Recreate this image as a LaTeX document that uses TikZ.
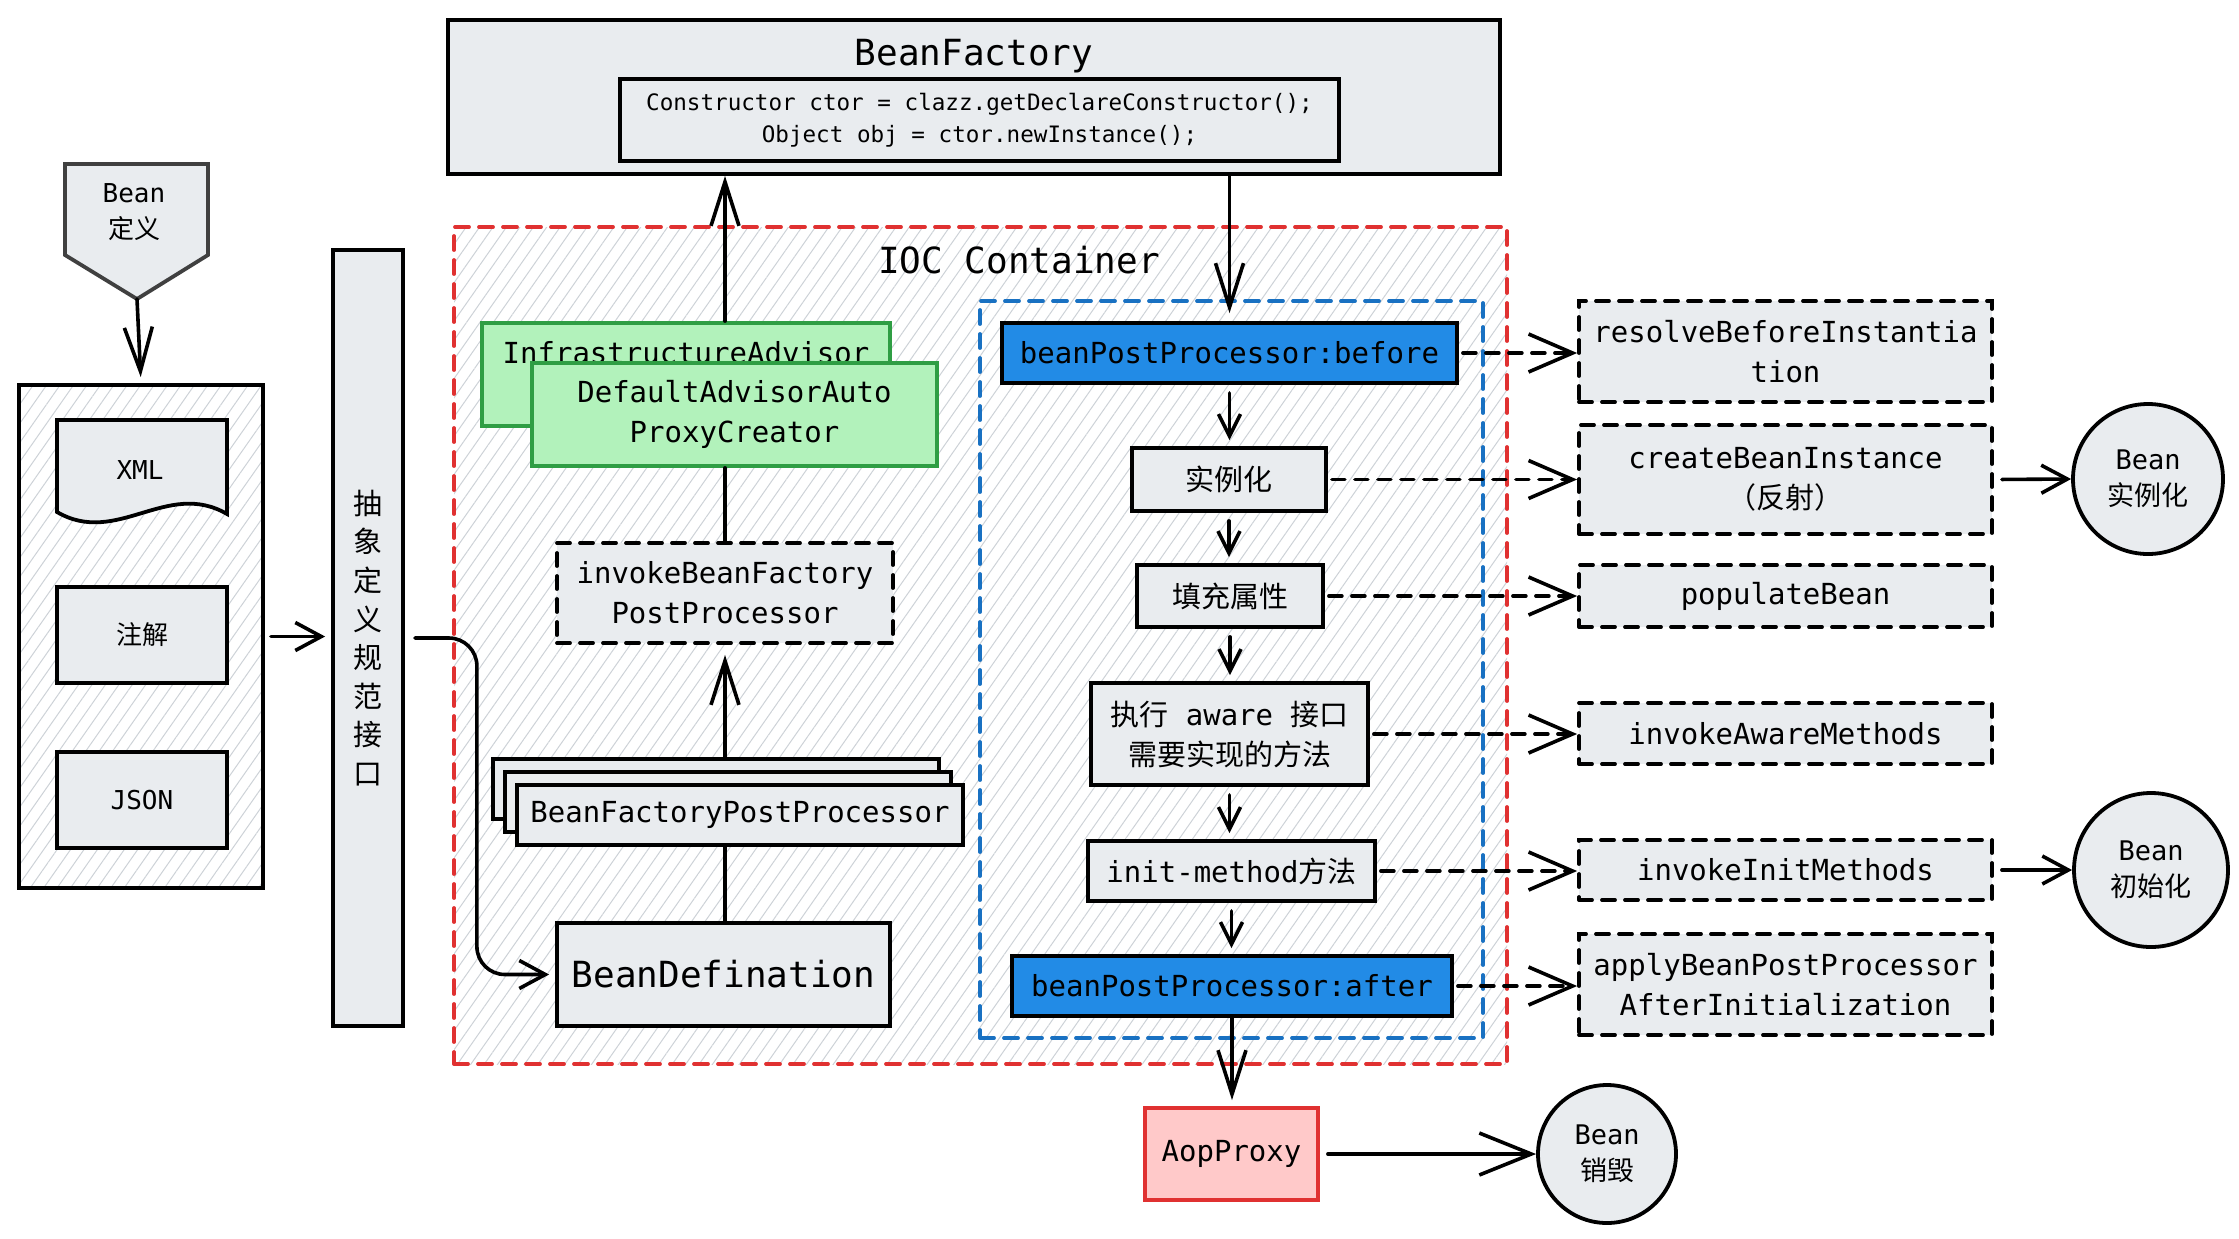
\documentclass[tikz,border=0pt]{standalone}
\usepackage{fontspec}
\setmainfont{DejaVu Sans Mono}
\newfontfamily\cjk{Noto Sans CJK SC}
\usetikzlibrary{
  arrows.meta,
  patterns.meta,
  shadows
}
\definecolor{boxgray}{HTML}{E9ECEF}
\definecolor{hatch}{HTML}{CDD2D7}
\definecolor{ocblue}{HTML}{228BE6}
\definecolor{dashblue}{HTML}{1971C2}
\definecolor{ocgreen}{HTML}{B2F2BB}
\definecolor{darkgreen}{HTML}{2F9E44}
\definecolor{ocred}{HTML}{E03131}
\definecolor{lightred}{HTML}{FFC9C9}
\newcommand\fbody{\fontsize{14.5}{20}\selectfont}
\newcommand\fcode{\fontsize{11.3}{16}\selectfont}
\newcommand\fbig{\fontsize{18}{22}\selectfont}
\newcommand\fsmall{\fontsize{13}{18}\selectfont}
\newcommand\fcirc{\fontsize{13.5}{18}\selectfont}

\begin{document}
\begin{tikzpicture}[
  x=0.5pt, y=-0.5pt, line cap=round,
  every node/.style = {shape=rectangle, align=center, inner sep=2pt, font=\fbody},
  box/.style = {draw, line width=1.9pt, fill=boxgray},
  dbox/.style = {box, dash pattern=on 6.5pt off 5pt},
  bluebox/.style = {box, fill=ocblue, minimum height=30pt},
  rbox/.style = {dbox, minimum width=206.5pt},
  greenbox/.style = {box, fill=ocgreen, draw=darkgreen},
  circ/.style = {circle, draw, line width=1.9pt, fill=boxgray, inner sep=0pt, font=\fcirc},
  hatched/.style = {pattern={Lines[angle=55,distance=5.5pt,line width=0.5pt]}, pattern color=hatch},
  arr/.style = {line width=1.8pt, -{Straight Barb[length=11pt,width=11pt]}},
  midarr/.style = {line width=1.8pt, -{Straight Barb[length=13pt,width=14pt]}},
  bigarr/.style = {line width=1.8pt, -{Straight Barb[length=22pt,width=14pt]}},
  darr/.style = {line width=1.8pt, dash pattern=on 6.5pt off 5pt, -{Straight Barb[length=22pt,width=19pt]}}]
  \useasboundingbox (0,0) rectangle (2239,1238);

  \node[hatched, draw=ocred, line width=1.9pt, dash pattern=on 7pt off 5pt,
    minimum width=526.5pt, minimum height=418.5pt] (ioc) at (980.5,645.5) {};
  \node[font=\fbig] (ioctitle) at (1019,260) {IOC Container};
  \node[draw=dashblue, line width=1.9pt, dash pattern=on 7pt off 5pt,
    minimum width=251.5pt, minimum height=368.5pt] (bpp) at (1231.5,669.5) {};

  \node[box, minimum width=526pt, text height=13pt, text depth=45pt, inner ysep=9.5pt,
    font=\fbig] (bf) at (974,97) {BeanFactory};
  \node[box, minimum width=359.5pt, minimum height=41pt, font=\fcode] (code) at (979.5,120)
    {Constructor ctor = clazz.getDeclareConstructor();\\Object obj = ctor.newInstance();};

  \filldraw[box, draw=black!75] (65,164) -- (208,164) -- (208,255) -- (137,299) -- (65,255) -- cycle;
  \node[font=\fsmall] (beandef) at (134,212) {Bean\\{\cjk 定义}};
  \coordinate (deftip) at (137,299);

  \node[draw, line width=1.9pt, hatched, minimum width=122pt, minimum height=251.5pt] (src) at (141,636.5) {};
  \filldraw[box] (57,420) -- (227,420) -- (227,514) .. controls +(-60,-35) and +(60,35) .. (57,512) -- cycle;
  \node[font=\fsmall] (xml) at (140,470) {XML};
  \node[box, minimum width=85pt, minimum height=48pt, font=\fsmall] (anno) at (142,635) {\cjk 注解};
  \node[box, minimum width=85pt, minimum height=48pt, font=\fsmall] (json) at (142,800) {JSON};

  \node[box, minimum width=35pt, minimum height=388pt, font={\cjk\fontsize{14.5}{19.3}\selectfont}] (bar)
    at (368,638) {抽\\象\\定\\义\\规\\范\\接\\口};

  \node[greenbox, minimum width=204pt, text height=11pt, text depth=22.5pt, inner ysep=9pt] (infra)
    at (686,374.5) {InfrastructureAdvisor};
  \node[greenbox, minimum width=202.5pt, minimum height=51.5pt] (dap) at (734.5,414.5)
    {DefaultAdvisorAuto\\ProxyCreator};
  \node[dbox, minimum width=168pt, minimum height=50pt] (invoke) at (725,593)
    {invokeBeanFactory\\PostProcessor};
  \node[box, minimum width=223pt, minimum height=30pt,
    double copy shadow={shadow xshift=-6pt, shadow yshift=6.5pt, fill=boxgray, draw=black, line width=1.9pt}]
    (bfpp) at (740,815) {BeanFactoryPostProcessor};
  \node[box, minimum width=166.5pt, minimum height=51.5pt, font=\fbig] (bdef) at (723.5,974.5) {BeanDefination};

  \node[bluebox, minimum width=227.5pt] (before) at (1229.5,353) {beanPostProcessor:before};
  \node[box, minimum width=97pt, minimum height=31.5pt] (inst) at (1229,479.5) {\cjk 实例化};
  \node[box, minimum width=93pt, minimum height=31pt] (attr) at (1230,596) {\cjk 填充属性};
  \node[box, minimum width=138.5pt, minimum height=51pt] (aware) at (1229.5,734)
    {{\cjk 执行} aware {\cjk 接口}\\{\cjk 需要实现的方法}};
  \node[box, minimum width=143.5pt, minimum height=30pt] (initm) at (1231.5,871) {init-method{\cjk 方法}};
  \node[bluebox, minimum width=220pt] (after) at (1232,986) {beanPostProcessor:after};
  \node[box, fill=lightred, draw=ocred, minimum width=86.5pt, minimum height=46pt] (aop) at (1231.5,1154) {AopProxy};
  \node[circ, minimum size=69pt] (destroy) at (1607,1154) {Bean\\{\cjk 销毁}};

  \node[rbox, minimum height=50.5pt] (rbi) at (1785.5,351.5) {resolveBeforeInstantia\\tion};
  \node[rbox, minimum height=54.5pt] (cbi) at (1785.5,479.5) {createBeanInstance\\{\cjk （反射）}};
  \node[rbox, minimum height=31pt] (pop) at (1785.5,596) {populateBean};
  \node[rbox, minimum height=30.5pt] (iam) at (1785.5,733.5) {invokeAwareMethods};
  \node[rbox, minimum height=30pt] (iim) at (1785.5,870) {invokeInitMethods};
  \node[rbox, minimum height=50.5pt] (abpp) at (1785.5,984.5) {applyBeanPostProcessor\\AfterInitialization};

  \node[circ, minimum size=75pt] (binst) at (2148,479) {Bean\\{\cjk 实例化}};
  \node[circ, minimum size=77pt] (binit) at (2151,870) {Bean\\{\cjk 初始化}};

  \draw[bigarr, shorten >=3pt] (deftip) -- (src.north);
  \draw[midarr, shorten <=3pt, shorten >=3pt] (src.east) -- (src.east -| bar.west);
  \draw[midarr, rounded corners=14pt, shorten >=3pt] ([xshift=5pt]bar.east) -- ++(62,0) |- (bdef.west);
  \draw[bigarr] (infra.north -| invoke) -- (bf.south -| invoke);
  \draw[line width=1.8pt] (invoke.north) -- (invoke.north |- dap.south);
  \draw[bigarr, shorten <=13pt, shorten >=5pt] (invoke.south |- bfpp.north) -- (invoke.south);
  \draw[line width=1.8pt] (bdef.north -| invoke) -- (bfpp.south -| invoke);
  \draw[bigarr, shorten >=4pt] (bf.south -| before) -- (before.north);
  \foreach \a/\b in {before/inst, inst/attr, attr/aware, aware/initm, initm/after}
    \draw[arr, shorten <=4pt, shorten >=3pt] (\a.south) -- (\a.south |- \b.north);
  \draw[bigarr, shorten >=3pt] (after.south) -- (after.south |- aop.north);
  \foreach \a/\b in {before/rbi, inst/cbi, attr/pop, aware/iam, initm/iim, after/abpp}
    \draw[darr, shorten <=2pt] (\a.east) -- (\a.east -| \b.west);
  \draw[midarr, shorten <=4pt] (cbi.east) -- (binst.west);
  \draw[midarr, shorten <=4pt] (iim.east) -- (binit.west);
  \draw[line width=1.8pt, -{Straight Barb[length=26pt,width=21pt]}, shorten <=4pt] (aop.east) -- (destroy.west);
\end{tikzpicture}
\end{document}
